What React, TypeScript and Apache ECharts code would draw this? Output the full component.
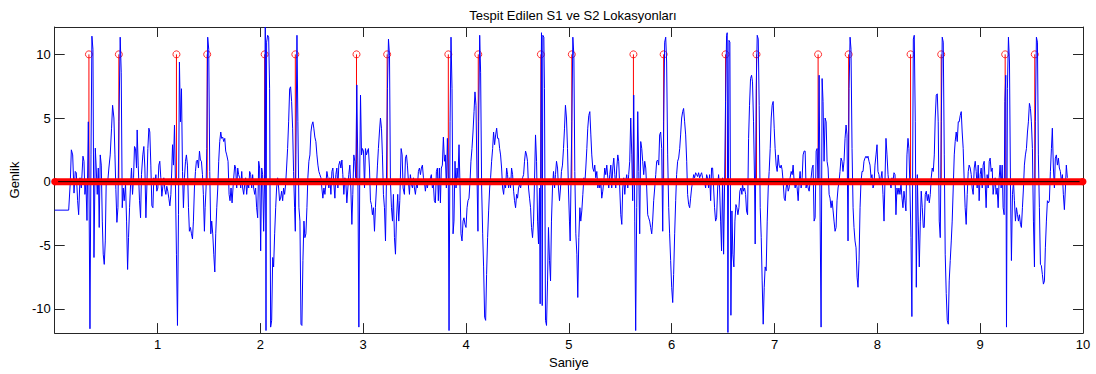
import React, { useEffect, useRef } from "react";
import * as echarts from "echarts";

const titleText = "Tespit Edilen S1 ve S2 Lokasyonları";
const xName = "Saniye";
const yName = "Genlik";
const xTicks = [1, 2, 3, 4, 5, 6, 7, 8, 9, 10];
const yTicks = [-10, -5, 0, 5, 10];
const xRange = [0, 10];
const yRange = [-11.9, 12.15];

// detected S1 / S2 locations (seconds), drawn as stems of height 10
const stemTimes = [
  0.333, 0.624, 1.184, 1.483, 2.042, 2.34, 2.935, 3.233, 3.828, 4.119, 4.728,
  5.029, 5.628, 5.922, 6.524, 6.825, 7.424, 7.721, 8.323, 8.621, 9.243, 9.531,
];
const stemHeight = 10;
const baseline = [[0, 0], [10, 0]];

// signal [seconds, amplitude]
const sig0: number[][] = [[0,-2.24],[0.136,-2.24],[0.152,0],[0.162,2.5],[0.175,2.1],[0.188,-0.9],[0.2,0.8],[0.21,0.7],[0.223,-1.5],[0.233,-2.6],[0.246,0.3],[0.259,-0.5],[0.275,2.0],[0.285,1.6],[0.294,-1.0],[0.304,-0.2],[0.314,-3.05],[0.327,4.7],[0.333,0.3],[0.343,-11.56],[0.353,2.1],[0.362,11.43],[0.372,10.4],[0.382,-5.96],[0.395,2.63],[0.404,1.07],[0.414,-1.0],[0.424,1.07],[0.433,-3.6],[0.443,2.1],[0.453,1.3],[0.463,-3.1],[0.472,-5.7],[0.482,-6.5],[0.492,-4.66],[0.501,0],[0.514,-0.2],[0.527,1.07],[0.54,2.1],[0.553,4.2],[0.563,6.0],[0.576,5.0],[0.586,2.1],[0.595,-0.6],[0.605,-3.2],[0.615,-2.05],[0.625,4.7],[0.637,11.35],[0.647,8.6],[0.657,-2.05],[0.667,-0.5],[0.676,-1.5],[0.689,-0.2],[0.699,-3.1],[0.709,-6.9],[0.718,-4.4],[0.728,-2.05],[0.738,-0.2],[0.747,1.07],[0.757,-1.0],[0.767,0.3],[0.776,2.76],[0.786,2.6],[0.796,1.07],[0.802,4.06],[0.812,1.3],[0.825,-1.5],[0.835,-2.84],[0.844,0.55],[0.857,2.1],[0.867,2.76],[0.877,1.07],[0.887,-2.84],[0.896,-0.5],[0.906,2.6],[0.916,4.2],[0.925,3.9],[0.935,1.3],[0.945,-1.9],[0.955,-2.05],[0.964,0.3],[0.974,-0.2],[0.984,0.55],[0.993,-0.75],[1.003,-0.5],[1.013,1.3],[1.022,1.6],[1.032,0.3],[1.042,-1.15],[1.052,-0.36],[1.061,0.3],[1.071,-0.6],[1.081,-1.0],[1.09,-0.36],[1.1,-0.75],[1.11,-1.3],[1.12,-1.9],[1.13,-1.0],[1.139,1.07],[1.146,2.9],[1.155,1.3],[1.165,4.45],[1.175,-0.5],[1.184,-5.7],[1.194,-11.3],[1.204,-2.6],[1.213,9.4],[1.223,4.7],[1.233,7.3],[1.243,0.8],[1.252,-2.05],[1.262,0.3],[1.272,1.6],[1.281,2.1],[1.291,1.3],[1.301,-2.05],[1.31,-3.9],[1.32,-3.6],[1.33,-4.1],[1.34,-4.5],[1.349,-3.1],[1.359,-0.5],[1.369,0.8],[1.378,1.6],[1.388,1.7],[1.398,1.07],[1.408,2.4],[1.417,1.7],[1.427,1.6],[1.437,0.55],[1.446,-1.0],[1.456,-3.9],[1.463,-2.05],[1.472,-0.5],[1.479,2.6],[1.488,11.35],[1.498,10.4],[1.508,0.8],[1.518,-4.1],[1.527,-3.1],[1.537,-4.1],[1.547,-5.7],[1.557,-7.1],[1.566,-4.1],[1.576,-2.05],[1.586,-0.5],[1.595,1.6],[1.605,3.15],[1.615,3.9],[1.624,3.4],[1.634,3.5],[1.644,3.15],[1.654,3.4],[1.663,2.4],[1.673,2.1]];

const sig1: number[][] = [[1.686,1.6],[1.696,-1.0],[1.705,-1.5],[1.715,-0.5],[1.725,-1.67],[1.738,0],[1.751,1.3],[1.76,1.07],[1.77,-0.5],[1.78,1.07],[1.789,0.55],[1.799,0.3],[1.809,-0.5],[1.819,0.8],[1.828,-0.5],[1.838,-1.0],[1.848,-0.2],[1.857,0.3],[1.867,-1.0],[1.877,0],[1.887,-0.5],[1.896,0.8],[1.906,0.55],[1.916,-0.5],[1.925,0.55],[1.935,-0.5],[1.945,-1.0],[1.954,-0.5],[1.964,-2.05],[1.974,-2.84],[1.984,1.6],[1.993,1.07],[2.003,-5.44],[2.013,1.07],[2.022,0.55],[2.032,-3.9],[2.042,0.55],[2.048,12.15],[2.055,-11.7],[2.061,10.96],[2.071,11.5],[2.081,11.35],[2.09,7.3],[2.1,-11.43],[2.11,-10.9],[2.12,-5.96],[2.129,-6.7],[2.139,-4.1],[2.149,-2.05],[2.158,-0.5],[2.168,0.3],[2.178,-0.5],[2.187,-1.5],[2.197,-1.3],[2.207,-0.75],[2.217,-1.5],[2.226,-0.5],[2.236,-1.0],[2.246,-0.2],[2.255,1.07],[2.265,2.6],[2.275,4.7],[2.285,7.3],[2.294,7.45],[2.304,6.3],[2.314,4.2],[2.323,0.8],[2.333,-2.05],[2.34,-3.9],[2.346,2.1],[2.356,11.5],[2.365,4.7],[2.375,-2.05],[2.385,-3.1],[2.395,-11.2],[2.404,-11.3],[2.414,-6.2],[2.424,-3.1],[2.433,-4.4],[2.443,-4.1],[2.453,-2.05],[2.462,0.3],[2.472,1.6],[2.482,2.1],[2.492,3.9],[2.501,4.45],[2.511,4.7],[2.52,4.2],[2.53,3.5],[2.54,3.15],[2.55,2.1],[2.56,1.3],[2.569,0.8],[2.579,0.55],[2.589,0.3],[2.598,-0.5],[2.608,-1.3],[2.618,-0.5],[2.628,-1.0],[2.637,-0.2],[2.647,0.8],[2.657,0.3],[2.666,-0.5],[2.676,0.3],[2.686,-1.0],[2.696,0.8],[2.705,1.07],[2.715,-0.2],[2.725,-1.3],[2.734,0.55],[2.744,1.07],[2.754,-0.5],[2.763,1.3],[2.773,1.6],[2.783,1.07],[2.793,1.7],[2.802,0.55],[2.812,-1.0],[2.822,0.3],[2.831,0],[2.841,-1.67],[2.851,-0.5],[2.86,0.55],[2.87,1.3],[2.88,-0.5],[2.89,-3.36],[2.899,-1.0],[2.909,2.1],[2.919,1.6],[2.928,0.3],[2.938,7.6],[2.948,1.07],[2.958,-11.43],[2.967,1.07],[2.974,6.8],[2.984,2.1],[2.993,2.6],[3.003,2.4],[3.013,-0.5],[3.022,2.6],[3.032,2.1],[3.042,2.4],[3.051,2.6],[3.061,1.07],[3.071,-1.5],[3.08,-1.8],[3.09,-2.6],[3.1,-2.05],[3.11,-3.9],[3.119,-2.05],[3.129,-0.5],[3.139,1.3],[3.148,2.6],[3.158,3.9],[3.168,5.0],[3.178,4.2],[3.187,2.1],[3.197,-1.0],[3.207,-2.05],[3.217,-4.66],[3.226,0],[3.236,7.3],[3.246,11.2],[3.256,9.9],[3.265,0],[3.275,-2.05],[3.285,-3.1],[3.294,-1.0],[3.304,-4.4],[3.314,-5.7],[3.323,-3.1],[3.336,-1.0]];

const sig2: number[][] = [[3.346,-3.1],[3.356,-1.5],[3.369,2.6],[3.379,2.1],[3.388,-0.5],[3.401,-1.0],[3.411,1.85],[3.421,2.1],[3.43,1.3],[3.44,0],[3.45,-1.0],[3.459,0.55],[3.469,-0.2],[3.479,-0.5],[3.489,0.3],[3.498,-0.5],[3.508,-1.0],[3.518,-0.2],[3.527,-0.5],[3.537,0.8],[3.547,1.07],[3.557,0.55],[3.566,1.07],[3.576,1.3],[3.586,0.3],[3.595,0],[3.605,-0.75],[3.615,0],[3.624,-0.5],[3.634,0],[3.644,-0.2],[3.654,0.3],[3.663,0.55],[3.673,-0.5],[3.683,-0.2],[3.692,-1.5],[3.702,-1.67],[3.712,0.8],[3.722,1.07],[3.731,-1.5],[3.741,1.07],[3.751,-1.67],[3.76,1.07],[3.77,1.3],[3.78,3.5],[3.79,1.6],[3.799,2.1],[3.809,-0.5],[3.819,3.4],[3.828,0],[3.835,-11.7],[3.845,4.7],[3.854,11.35],[3.864,7.3],[3.874,-4.1],[3.883,-3.1],[3.893,1.6],[3.903,-0.5],[3.913,1.07],[3.922,0.3],[3.932,2.9],[3.942,-0.5],[3.951,-4.1],[3.961,-4.66],[3.971,-3.1],[3.98,-2.84],[3.99,-3.36],[4.0,-3.6],[4.01,-2.05],[4.019,-1.5],[4.029,-1.3],[4.039,0],[4.048,1.6],[4.058,2.6],[4.068,3.9],[4.078,5.5],[4.087,7.05],[4.097,6.0],[4.107,0.3],[4.116,-3.9],[4.123,4.7],[4.133,11.5],[4.142,8.6],[4.152,-0.5],[4.162,-4.1],[4.171,-6.7],[4.181,-10.65],[4.191,-10.9],[4.2,-7.3],[4.21,-4.4],[4.22,-2.3],[4.23,-0.5],[4.239,0.3],[4.249,1.6],[4.259,2.6],[4.268,3.9],[4.278,2.9],[4.288,3.67],[4.298,4.2],[4.307,3.4],[4.317,3.4],[4.327,2.6],[4.336,2.1],[4.346,1.07],[4.356,-0.5],[4.366,-1.0],[4.375,0],[4.385,-0.5],[4.395,1.07],[4.404,0.55],[4.414,-0.5],[4.424,0.3],[4.433,-0.5],[4.443,1.07],[4.453,0.55],[4.463,-0.75],[4.472,-1.5],[4.482,-2.05],[4.492,-1.0],[4.501,-1.3],[4.511,-0.5],[4.521,-0.2],[4.531,-0.5],[4.54,0],[4.55,0.3],[4.56,0.55],[4.569,1.6],[4.579,2.4],[4.589,2.1],[4.598,1.6],[4.608,-0.5],[4.618,-1.3],[4.628,-2.05],[4.637,-3.6],[4.647,-4.4],[4.657,-3.1],[4.666,0],[4.676,3.67],[4.686,1.6],[4.696,-3.1],[4.705,-4.9],[4.715,-0.5],[4.721,-9.6],[4.728,4.7],[4.734,11.7],[4.741,-9.74],[4.747,11.5],[4.757,11.35],[4.763,7.3],[4.773,-10.9],[4.783,-11.3],[4.793,-7.8],[4.802,-3.6],[4.812,-6.2],[4.822,-7.8],[4.831,-3.1],[4.841,-0.5],[4.851,0.8],[4.861,-0.5],[4.87,0.55],[4.88,1.6],[4.89,1.07],[4.899,-0.5],[4.909,-1.5],[4.919,-0.5],[4.928,0.8],[4.938,1.3],[4.948,2.6],[4.958,4.2],[4.967,6.0],[4.977,5.0],[4.987,2.6],[4.996,-0.5],[5.006,-3.1],[5.013,-4.66]];

const sig3: number[][] = [[5.029,4.7],[5.039,11.35],[5.049,9.9],[5.058,0.8],[5.068,-4.1],[5.078,-5.7],[5.087,-9.1],[5.097,-4.4],[5.107,-2.05],[5.116,-3.1],[5.126,-2.3],[5.136,-1.0],[5.146,0.3],[5.155,-0.2],[5.165,1.07],[5.175,2.6],[5.184,4.2],[5.194,5.2],[5.204,5.5],[5.214,3.67],[5.223,2.1],[5.233,1.07],[5.243,0.8],[5.252,1.3],[5.262,0.3],[5.272,0.8],[5.282,-0.5],[5.291,0],[5.301,-0.5],[5.311,0],[5.32,-1.3],[5.33,-0.75],[5.34,0],[5.349,1.07],[5.359,0.55],[5.369,1.3],[5.379,0.3],[5.388,-0.5],[5.398,0.55],[5.408,1.3],[5.417,-0.5],[5.427,1.07],[5.437,1.85],[5.447,0.55],[5.456,-0.5],[5.466,1.07],[5.476,2.1],[5.485,1.6],[5.495,-0.5],[5.505,-2.6],[5.515,-3.36],[5.524,-0.5],[5.534,0.3],[5.544,-1.0],[5.553,0],[5.563,0.55],[5.573,-0.5],[5.582,0.55],[5.592,1.6],[5.602,5.0],[5.612,2.1],[5.621,-1.5],[5.631,6.8],[5.641,-3.1],[5.65,-11.7],[5.66,-2.05],[5.67,5.5],[5.68,0.8],[5.689,-4.1],[5.699,3.15],[5.709,2.6],[5.718,1.6],[5.728,0.55],[5.738,1.6],[5.748,1.07],[5.757,-0.5],[5.767,-2.6],[5.776,-2.84],[5.786,-3.1],[5.796,-3.6],[5.806,-4.1],[5.815,-3.1],[5.825,-1.5],[5.835,-0.5],[5.845,0.55],[5.854,1.6],[5.864,1.7],[5.874,1.3],[5.883,3.67],[5.893,3.9],[5.903,2.6],[5.913,-3.9],[5.922,4.7],[5.932,10.96],[5.942,11.35],[5.951,9.4],[5.961,2.1],[5.971,-2.05],[5.98,-4.1],[5.99,-6.2],[6.0,-8.3],[6.01,-9.5],[6.019,-7.3],[6.029,-4.1],[6.039,-1.5],[6.048,0.55],[6.058,1.6],[6.068,1.85],[6.078,2.6],[6.087,3.67],[6.097,5.0],[6.107,5.5],[6.116,5.75],[6.126,4.7],[6.136,3.67],[6.146,1.6],[6.155,-1.0],[6.165,-1.8],[6.175,-2.05],[6.184,-1.3],[6.194,-0.5],[6.204,0],[6.214,0.55],[6.223,0.3],[6.233,0.7],[6.243,0.55],[6.252,0.4],[6.262,0.7],[6.272,0.3],[6.282,0.55],[6.291,0.7],[6.301,0.3],[6.311,-0.2],[6.32,0],[6.33,-0.5],[6.34,0.55],[6.349,0.3],[6.359,-0.5],[6.369,0.55],[6.379,-1.5],[6.388,1.07],[6.398,1.07],[6.408,-0.5],[6.417,-2.05],[6.427,-3.1],[6.437,-2.84],[6.447,-0.5],[6.456,0.55],[6.466,-0.5],[6.476,-3.1],[6.485,-5.44],[6.495,0.3],[6.505,-5.7],[6.514,-0.5],[6.524,6.3],[6.534,11.5],[6.54,11.7],[6.547,-11.85],[6.557,11.1],[6.566,10.96],[6.576,-10.5],[6.586,-2.3],[6.595,-5.7],[6.605,-6.7],[6.615,-3.1],[6.625,-1.8],[6.634,-2.05],[6.644,-2.6],[6.654,-2.05],[6.663,-0.75],[6.673,-0.5],[6.683,-1.0]];

const sig4: number[][] = [[6.689,-0.2],[6.699,-0.75],[6.709,-0.5],[6.719,-1.0],[6.728,-2.3],[6.738,-2.6],[6.748,3.4],[6.757,6.0],[6.767,8.1],[6.777,8.36],[6.786,7.84],[6.796,4.7],[6.806,0],[6.812,-4.9],[6.822,7.3],[6.832,11.5],[6.842,11.2],[6.851,6.0],[6.861,-2.05],[6.871,-4.4],[6.88,-7.8],[6.89,-11.2],[6.9,-8.3],[6.909,-6.7],[6.919,-7.0],[6.929,-3.1],[6.939,-0.5],[6.948,0.8],[6.958,2.6],[6.968,5.0],[6.977,6.0],[6.987,6.3],[6.997,4.2],[7.006,2.6],[7.016,1.3],[7.026,0.8],[7.036,2.1],[7.045,1.3],[7.055,1.07],[7.065,1.3],[7.074,0.94],[7.084,0],[7.094,-1.3],[7.104,-1.5],[7.113,-0.5],[7.123,0],[7.133,-0.75],[7.142,-0.5],[7.152,0.3],[7.162,0.8],[7.172,0.55],[7.181,1.3],[7.191,0],[7.201,-0.5],[7.21,0],[7.22,-0.5],[7.23,-1.5],[7.24,0],[7.249,0.8],[7.259,-0.5],[7.269,0.3],[7.278,2.1],[7.288,2.4],[7.298,2.4],[7.307,-0.5],[7.317,0],[7.327,-0.5],[7.337,-0.75],[7.346,0],[7.356,0.3],[7.366,1.07],[7.375,1.3],[7.385,-3.1],[7.395,-2.84],[7.405,2.4],[7.414,2.6],[7.424,0],[7.434,8.36],[7.444,-3.1],[7.453,-11.43],[7.463,8.1],[7.472,6.3],[7.482,1.6],[7.492,5.0],[7.502,4.7],[7.511,1.6],[7.521,1.07],[7.531,-1.0],[7.54,-1.3],[7.55,-2.05],[7.56,-1.5],[7.57,-2.3],[7.579,-3.1],[7.589,-3.9],[7.599,-3.6],[7.608,-1.5],[7.618,-0.5],[7.628,0],[7.637,0.8],[7.647,1.85],[7.657,1.6],[7.666,0.8],[7.676,1.6],[7.686,3.4],[7.696,4.45],[7.705,3.67],[7.715,-4.66],[7.725,7.3],[7.735,11.35],[7.744,10.4],[7.754,2.6],[7.764,-2.05],[7.773,-3.6],[7.783,-4.66],[7.793,-5.2],[7.803,-7.5],[7.812,-8.3],[7.822,-6.2],[7.832,-2.05],[7.841,0],[7.851,0.8],[7.861,0.8],[7.87,1.6],[7.88,1.85],[7.89,2.0],[7.9,1.85],[7.909,2.0],[7.919,1.6],[7.929,1.3],[7.939,0.3],[7.948,0.55],[7.958,-0.5],[7.968,-0.2],[7.977,1.3],[7.987,2.1],[7.997,2.9],[8.006,0.8],[8.016,0.55],[8.026,-0.2],[8.036,0.3],[8.045,0.8],[8.055,-1.0],[8.065,-3.1],[8.074,0],[8.084,3.4],[8.094,2.1],[8.104,0.55],[8.113,-0.2],[8.123,0],[8.133,-0.5],[8.142,0.3],[8.152,0],[8.162,0.7],[8.172,0.55],[8.181,-2.6],[8.191,-0.5],[8.2,-1.0],[8.21,-0.5],[8.22,-1.0],[8.23,-0.2],[8.24,-1.3],[8.249,-2.05],[8.259,-0.75],[8.269,-1.5],[8.278,-2.3],[8.288,2.1],[8.298,3.4],[8.307,2.6],[8.317,-0.5],[8.327,-4.4],[8.336,-10.6]];

const sig5: number[][] = [[8.35,11.2],[8.359,11.5],[8.369,4.7],[8.379,-8.3],[8.389,0.55],[8.398,-3.1],[8.408,-6.7],[8.418,-3.1],[8.427,-0.75],[8.437,-2.05],[8.447,-3.6],[8.456,-3.6],[8.466,-1.0],[8.476,-0.75],[8.486,-1.5],[8.495,-1.0],[8.505,-1.67],[8.515,-1.0],[8.524,0.3],[8.534,1.07],[8.544,0.8],[8.554,2.1],[8.563,5.0],[8.573,6.8],[8.583,6.9],[8.592,4.7],[8.602,-3.1],[8.612,-4.4],[8.622,4.7],[8.631,11.35],[8.641,10.96],[8.651,2.1],[8.66,-5.7],[8.67,-8.8],[8.68,-10.9],[8.69,-11.2],[8.699,-7.8],[8.709,-6.2],[8.719,-4.66],[8.728,-3.1],[8.738,-0.5],[8.748,2.1],[8.757,3.15],[8.767,3.9],[8.777,3.15],[8.787,4.7],[8.796,4.7],[8.806,5.2],[8.816,5.5],[8.825,3.9],[8.835,2.6],[8.845,0],[8.854,-2.05],[8.864,-3.36],[8.874,-1.0],[8.884,0.8],[8.893,1.3],[8.903,1.07],[8.913,0.55],[8.922,-0.5],[8.932,-1.0],[8.942,1.07],[8.952,1.6],[8.961,0.8],[8.971,-0.5],[8.981,1.3],[8.99,-1.5],[9.0,0.55],[9.01,1.07],[9.02,-0.5],[9.029,1.3],[9.039,1.6],[9.049,-0.2],[9.058,-2.05],[9.068,0.55],[9.078,-0.5],[9.088,1.6],[9.097,1.85],[9.107,0.8],[9.117,1.07],[9.126,-1.0],[9.136,-0.2],[9.146,0.3],[9.155,-1.0],[9.165,-0.5],[9.175,-2.05],[9.185,0.3],[9.194,1.3],[9.204,-0.5],[9.214,1.3],[9.223,-2.05],[9.233,-2.6],[9.24,6.3],[9.249,8.36],[9.256,-11.43],[9.265,7.3],[9.275,11.35],[9.285,9.4],[9.295,-0.5],[9.304,-6.2],[9.314,-1.0],[9.324,0],[9.333,-1.5],[9.343,-3.1],[9.353,-2.05],[9.363,-2.6],[9.372,-3.1],[9.382,-2.6],[9.392,-3.36],[9.401,-3.6],[9.411,-2.05],[9.421,-0.5],[9.43,1.3],[9.44,2.1],[9.45,2.6],[9.46,3.9],[9.469,4.7],[9.479,6.15],[9.489,5.75],[9.498,4.7],[9.508,2.6],[9.518,-3.1],[9.528,-6.7],[9.537,4.7],[9.547,11.35],[9.557,10.96],[9.566,2.1],[9.576,-2.05],[9.586,-6.5],[9.595,-6.6],[9.605,-7.3],[9.615,-8.05],[9.625,-7.8],[9.634,-5.2],[9.644,-3.1],[9.654,-1.5],[9.664,-1.67],[9.673,-1.5],[9.683,0.8],[9.693,2.6],[9.702,4.2],[9.712,1.07],[9.722,-0.5],[9.731,1.85],[9.741,2.1],[9.751,1.3],[9.761,1.85],[9.77,1.07],[9.78,0.8],[9.79,0],[9.8,0.55],[9.809,-1.0],[9.819,-2.2],[9.829,-0.5],[9.838,1.3],[9.848,0.3]];

const signal = [...sig0, ...sig1, ...sig2, ...sig3, ...sig4, ...sig5];

const FONT = "'Liberation Sans', Arial, Helvetica, sans-serif";
const AXIS = "#262626";

export default function App() {
  const ref = useRef<HTMLDivElement>(null);
  useEffect(() => {
    document.body.style.margin = "0";
    if (!ref.current) return;
    const chart = echarts.init(ref.current, undefined, { renderer: "svg" });
    const tickCommon = {
      inside: true,
      length: 10,
      lineStyle: { color: AXIS, width: 1 },
    };
    const lineCommon = { show: true, onZero: false, lineStyle: { color: AXIS, width: 1 } };
    const option: any = {
      animation: false,
      backgroundColor: "#ffffff",
      title: {
        text: titleText,
        left: 568,
        top: 4,
        textAlign: "center",
        textStyle: { fontSize: 13, fontWeight: "normal", color: "#000", fontFamily: FONT },
      },
      grid: { left: 53, right: 13, top: 27, bottom: 40 },
      xAxis: [
        {
          type: "value",
          min: xRange[0],
          max: xRange[1],
          position: "bottom",
          axisLine: lineCommon,
          axisTick: { ...tickCommon, customValues: xTicks },
          axisLabel: { customValues: xTicks, color: "#000", fontSize: 13, fontFamily: FONT, margin: 5 },
          splitLine: { show: false },
          name: xName,
          nameLocation: "middle",
          nameGap: 21,
          nameTextStyle: { color: "#000", fontSize: 13, fontFamily: FONT },
        },
        {
          type: "value",
          min: xRange[0],
          max: xRange[1],
          position: "top",
          axisLine: lineCommon,
          axisTick: { ...tickCommon, customValues: xTicks },
          axisLabel: { show: false },
          splitLine: { show: false },
        },
      ],
      yAxis: [
        {
          type: "value",
          min: yRange[0],
          max: yRange[1],
          position: "left",
          axisLine: lineCommon,
          axisTick: { ...tickCommon, customValues: yTicks },
          axisLabel: { customValues: yTicks, color: "#000", fontSize: 13, fontFamily: FONT, margin: 4 },
          splitLine: { show: false },
          name: yName,
          nameLocation: "middle",
          nameGap: 30,
          nameTextStyle: { color: "#000", fontSize: 13, fontFamily: FONT },
        },
        {
          type: "value",
          min: yRange[0],
          max: yRange[1],
          position: "right",
          axisLine: lineCommon,
          axisTick: { ...tickCommon, customValues: yTicks },
          axisLabel: { show: false },
          splitLine: { show: false },
        },
      ],
      series: [
        {
          type: "line",
          data: signal,
          symbol: "none",
          showSymbol: false,
          lineStyle: { color: "#0000ff", width: 1 },
          clip: true,
        },
        {
          type: "custom",
          data: stemTimes.map((t) => [t, stemHeight]),
          encode: { x: 0, y: 1 },
          renderItem: (params: any, api: any) => {
            const p0 = api.coord([api.value(0), 0]);
            const p1 = api.coord([api.value(0), api.value(1)]);
            return {
              type: "line",
              shape: { x1: p0[0], y1: p0[1], x2: p1[0], y2: p1[1] },
              style: { stroke: "#ff0000", lineWidth: 1 },
            };
          },
        },
        {
          type: "line",
          data: baseline,
          symbol: "circle",
          symbolSize: 7,
          showAllSymbol: true,
          itemStyle: { color: "#ff0000" },
          lineStyle: { color: "#ff0000", width: 7 },
          clip: false,
        },
        {
          type: "line",
          data: baseline,
          symbol: "none",
          lineStyle: { color: "#000000", width: 1 },
          clip: false,
        },
        {
          type: "scatter",
          data: stemTimes.map((t) => [t, stemHeight]),
          symbol: "circle",
          symbolSize: 7,
          itemStyle: { color: "rgba(0,0,0,0)", borderColor: "#ff0000", borderWidth: 1 },
        },
      ],
    };
    chart.setOption(option);
    return () => chart.dispose();
  }, []);
  return <div ref={ref} style={{ width: 1096, height: 374 }} />;
}
